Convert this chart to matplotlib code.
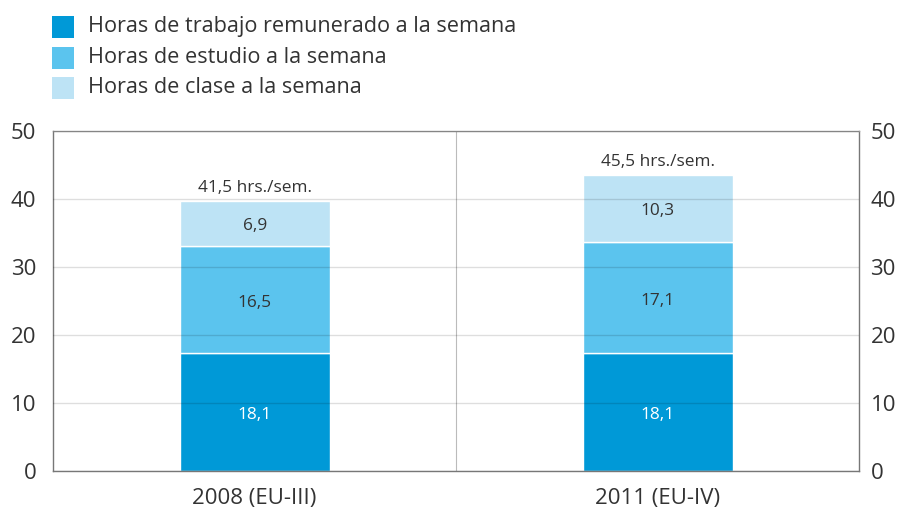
import matplotlib
matplotlib.use("Agg")
import matplotlib.pyplot as plt
from matplotlib.patches import Rectangle

plt.rcParams["font.family"] = ["Open Sans", "DejaVu Sans"]

# data
categories = ["2008 (EU-III)", "2011 (EU-IV)"]
series_names = [
    "Horas de trabajo remunerado a la semana",
    "Horas de estudio a la semana",
    "Horas de clase a la semana",
]
# drawn segment heights (as measured on the chart)
trabajo = [17.3, 17.3]
estudio = [15.8, 16.4]
clase = [6.65, 9.9]
# printed labels
trabajo_labels = ["18,1", "18,1"]
estudio_labels = ["16,5", "17,1"]
clase_labels = ["6,9", "10,3"]
total_labels = ["41,5 hrs./sem.", "45,5 hrs./sem."]

colors = ["#0099d7", "#5bc4ee", "#bde3f5"]
text_color = "#333333"

fig = plt.figure(figsize=(8.99, 5.08), dpi=100)
ax = fig.add_axes([0.059, 0.073, 0.897, 0.669])

x = list(range(len(categories)))
bottom = [0.0] * len(x)
segments = [trabajo, estudio, clase]
seg_labels = [trabajo_labels, estudio_labels, clase_labels]
label_colors = ["white", text_color, text_color]
for vals, labs, col, lc in zip(segments, seg_labels, colors, label_colors):
    ax.bar(x, vals, bottom=bottom, width=0.372, color=col,
           edgecolor="white", linewidth=1, zorder=2)
    for xi, b, v, lab in zip(x, bottom, vals, labs):
        ax.text(xi, b + v / 2 - 0.45, lab, ha="center", va="center",
                fontsize=12.4, color=lc, zorder=4)
    bottom = [b + v for b, v in zip(bottom, vals)]

for xi, top, lab in zip(x, bottom, total_labels):
    ax.text(xi, top + 1.85, lab, ha="center", va="center",
            fontsize=12.4, color=text_color, zorder=4)

ax.set_xlim(-0.5, 1.5)
ax.set_ylim(0, 50)
ax.set_yticks([0, 10, 20, 30, 40, 50])
ax.set_xticks(x)
ax.set_xticklabels(categories)
ax.yaxis.grid(True, color="black", alpha=0.13, linewidth=1, zorder=3)
ax.set_axisbelow(False)
ax.axvline(0.5, color="#bbbbbb", linewidth=0.8, zorder=1)

ax.tick_params(axis="y", length=0, labelsize=16, labelcolor=text_color, pad=12)
ax.tick_params(axis="x", length=0, labelsize=16, labelcolor=text_color, pad=12)
for s in ax.spines.values():
    s.set_color("#777777")
    s.set_linewidth(1)
ax.spines["top"].set_color("#999999")

# right-hand tick labels with a smaller gap
ax2 = ax.twinx()
ax2.set_ylim(0, 50)
ax2.set_yticks([0, 10, 20, 30, 40, 50])
ax2.tick_params(axis="y", length=0, labelsize=16, labelcolor=text_color, pad=8)
for s in ax2.spines.values():
    s.set_visible(False)

# legend drawn by hand
for i, (name, col) in enumerate(zip(series_names, colors)):
    y0 = 1 - (16 + i * 30.5) / 508
    fig.add_artist(Rectangle((52 / 899, y0 - 22 / 508), 22 / 899, 22 / 508,
                             transform=fig.transFigure, facecolor=col,
                             edgecolor="none"))
    fig.text(88 / 899, y0 - 11 / 508, name, ha="left", va="center",
             fontsize=15.6, color=text_color)

fig.savefig("out.png", dpi=100)
